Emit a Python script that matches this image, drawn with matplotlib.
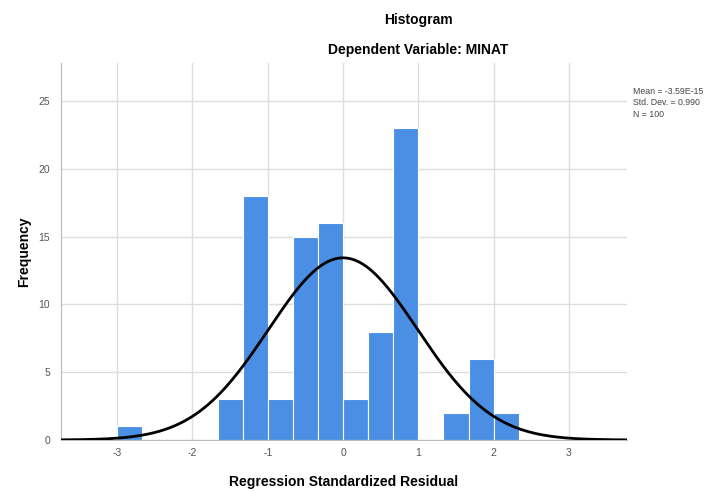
import numpy as np
import matplotlib
matplotlib.use('Agg')
import matplotlib.pyplot as plt

# histogram of standardized residuals (bins of width 1/3 starting at -3)
bin_start = -3.0
bin_width = 1 / 3
counts = [1, 0, 0, 0, 3, 18, 3, 15, 16, 3, 8, 23, 0, 2, 6, 2]

# summary stats shown in the corner
mean = -3.59e-15
std_dev = 0.990
n_obs = 100

x_ticks = [-3, -2, -1, 0, 1, 2, 3]
y_ticks = [0, 5, 10, 15, 20, 25]

plt.rcParams['font.family'] = ['Liberation Sans', 'DejaVu Sans']
plt.rcParams['axes.unicode_minus'] = False

fig = plt.figure(figsize=(7.2, 4.91), dpi=100)
ax = fig.add_axes([61 / 720, 1 - 440 / 491, 566 / 720, 377 / 491])

lefts = bin_start + bin_width * np.arange(len(counts))
ax.bar(lefts, counts, width=bin_width, align='edge', color='#4a8fe3',
       edgecolor='white', linewidth=0.8, zorder=2)

# normal curve scaled to the counts
xlim = (-3.745, 3.77)
xs = np.linspace(xlim[0], xlim[1], 400)
pdf = np.exp(-0.5 * ((xs - mean) / std_dev) ** 2) / (std_dev * np.sqrt(2 * np.pi))
ax.plot(xs, n_obs * bin_width * pdf, color='black', linewidth=2, zorder=3)

ax.set_xlim(*xlim)
ax.set_ylim(0, 27.8)
ax.set_xticks(x_ticks)
ax.set_yticks(y_ticks)
ax.tick_params(axis='both', length=0, labelsize=7.5, labelcolor='#555555')
ax.tick_params(axis='x', pad=6)
ax.tick_params(axis='y', pad=8)
ax.grid(True, color='#dddddd', linewidth=1, zorder=0)
ax.set_axisbelow(True)
for side in ['top', 'right']:
    ax.spines[side].set_visible(False)
ax.spines['left'].set_color('#bbbbbb')
ax.spines['bottom'].set_color('#bbbbbb')

ax.set_xlabel('Regression Standardized Residual', fontsize=10, fontweight='bold', labelpad=12)
ax.set_ylabel('Frequency', fontsize=10, fontweight='bold', labelpad=5)

fig.text(418 / 720, 1 - 20 / 491, 'Histogram', ha='center', va='center',
         fontsize=10, fontweight='bold')
fig.text(418 / 720, 1 - 50 / 491, 'Dependent Variable: MINAT', ha='center', va='center',
         fontsize=10, fontweight='bold')

stats = 'Mean = %.2E\nStd. Dev. = %.3f\nN = %d' % (mean, std_dev, n_obs)
fig.text(633 / 720, 1 - 87 / 491, stats, ha='left', va='top', fontsize=6.3,
         color='#444444', linespacing=1.35)

fig.savefig('out.png', dpi=100)
